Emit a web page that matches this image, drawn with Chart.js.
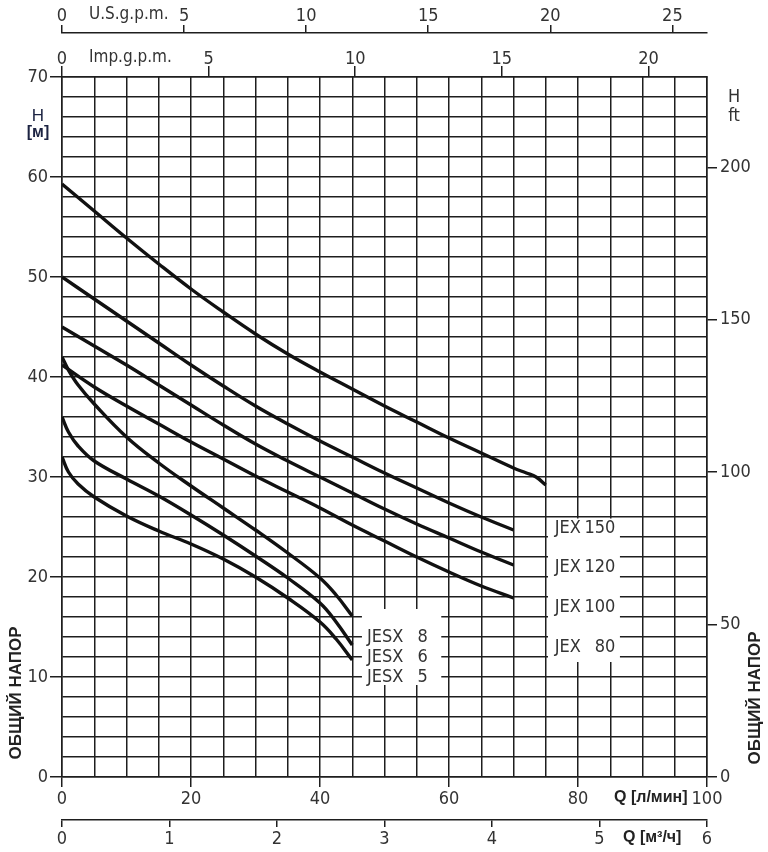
<!DOCTYPE html>
<html>
<head>
<meta charset="utf-8">
<script src="https://cdn.jsdelivr.net/npm/chart.js@4.4.0/dist/chart.umd.min.js"></script>
<style>
  html, body { margin: 0; padding: 0; background: #fff; }
  #wrap { width: 768px; height: 852px; }
</style>
</head>
<body>
<div id="wrap"><canvas id="curves"></canvas></div>
<script>
// flow Q [l/min] and head H [m]
const qJex    = [0, 5, 10, 15, 20, 25, 30, 35, 40, 45, 50, 55, 60, 65, 70];
const qJex150 = [0, 5, 10, 15, 20, 25, 30, 35, 40, 45, 50, 55, 60, 65, 70, 72, 73.5, 75];
const hJex150 = [59.3, 56.6, 53.9, 51.3, 48.8, 46.5, 44.3, 42.3, 40.5, 38.8, 37.1, 35.5, 33.9, 32.4, 30.9, 30.4, 30.0, 29.2];
const hJex120 = [50.0, 47.8, 45.6, 43.4, 41.2, 39.1, 37.1, 35.3, 33.6, 32.0, 30.4, 28.9, 27.4, 26.0, 24.7];
const hJex100 = [45.0, 43.1, 41.2, 39.2, 37.2, 35.2, 33.3, 31.6, 30.0, 28.4, 26.8, 25.3, 23.9, 22.5, 21.2];
const hJex80  = [41.2, 39.0, 37.1, 35.3, 33.5, 31.8, 30.1, 28.5, 26.9, 25.2, 23.6, 22.0, 20.5, 19.1, 17.9];
const qJesx   = [0, 1, 2.5, 5, 10, 15, 20, 25, 30, 35, 40, 42.5, 45];
const hJesx8  = [42.0, 40.7, 39.2, 37.3, 34.0, 31.4, 29.1, 26.9, 24.7, 22.4, 19.9, 18.2, 16.1];
const hJesx6  = [36.0, 34.5, 33.1, 31.6, 29.8, 28.1, 26.2, 24.2, 22.1, 19.9, 17.4, 15.5, 13.2];
const hJesx5  = [32.0, 30.5, 29.3, 28.0, 26.1, 24.6, 23.3, 21.8, 20.0, 17.9, 15.5, 13.8, 11.7];

const jexNames  = ['150', '120', '100', '80'];
const jesxNames = ['8', '6', '5'];

const qMax = 100, hMax = 70;
const M_TO_FT = 3.28084, LPM_USGPM = 3.78541, LPM_IMPGPM = 4.54609, LPM_M3H = 1000 / 60;

const gridCol = '#1e1e1e';
const txtCol = '#333';
const narrow = "'Liberation Sans Narrow','DejaVu Sans Condensed',sans-serif";
const tickFont = { family: narrow, size: 18 };

const pts = (q, h) => q.map((v, i) => ({ x: v, y: h[i] }));
const curve = (q, h) => ({ data: pts(q, h), borderColor: '#111', borderWidth: 3.4, pointRadius: 0,
  tension: 0.4, fill: false });

const every = n => c => (c.tick && Math.abs(c.tick.value % n) < 1e-6) ? gridCol : 'rgba(0,0,0,0)';

const labels = {
  id: 'labels',
  beforeDatasetsDraw(chart) {
    const { ctx, scales: { x, y } } = chart;
    ctx.save();
    ctx.fillStyle = '#fff';
    const box = (q1, q2, h1, h2) => {
      const x1 = x.getPixelForValue(q1), x2 = x.getPixelForValue(q2);
      const y1 = y.getPixelForValue(h1), y2 = y.getPixelForValue(h2);
      ctx.fillRect(x1, y1, x2 - x1, y2 - y1);
    };
    box(75.35, 86.5, 25.85, 11.5);
    box(46.5, 58.8, 16.8, 9.2);
    ctx.restore();
  },
  afterDraw(chart) {
    const { ctx, scales: { x, y } } = chart;
    ctx.save();
    ctx.fillStyle = txtCol;
    ctx.textBaseline = 'middle';
    ctx.font = `18px ${narrow}`;
    const jexH = [24.9, 21, 17, 13];
    jexNames.forEach((n, i) => {
      const yy = y.getPixelForValue(jexH[i]);
      ctx.textAlign = 'left'; ctx.fillText('JEX', x.getPixelForValue(76.4), yy);
      ctx.textAlign = 'right'; ctx.fillText(n, x.getPixelForValue(85.8), yy);
    });
    const jesxH = [14, 12, 10];
    jesxNames.forEach((n, i) => {
      const yy = y.getPixelForValue(jesxH[i]);
      ctx.textAlign = 'left'; ctx.fillText('JESX', x.getPixelForValue(47.3), yy);
      ctx.textAlign = 'right'; ctx.fillText(n, x.getPixelForValue(56.7), yy);
    });

    ctx.textAlign = 'left';
    ctx.font = `17px ${narrow}`;
    ctx.fillText('U.S.g.p.m.', 89, 15);
    ctx.fillText('Imp.g.p.m.', 89, 58);

    ctx.textAlign = 'center';
    ctx.font = `18px ${narrow}`;
    ctx.fillText('H', 734, 97);
    ctx.fillText('ft', 734, 116);

    ctx.fillStyle = '#1c2342';
    ctx.font = "17px 'Liberation Sans',Arial,sans-serif";
    ctx.fillText('H', 38, 116);
    ctx.font = "bold 16px 'Liberation Sans',Arial,sans-serif";
    ctx.fillText('[м]', 38, 133);

    ctx.fillStyle = '#222';
    ctx.textAlign = 'left';
    ctx.font = "bold 16px 'Liberation Sans',Arial,sans-serif";
    ctx.fillText('Q [л/мин]', 614, 798);
    ctx.fillText('Q [м³/ч]', 623, 838);

    ctx.font = "bold 17px 'Liberation Sans',Arial,sans-serif";
    ctx.textAlign = 'center';
    [[16, 693], [755, 698]].forEach(([px, py]) => {
      ctx.save();
      ctx.translate(px, py);
      ctx.rotate(-Math.PI / 2);
      ctx.fillText('ОБЩИЙ НАПОР', 0, 0);
      ctx.restore();
    });
    ctx.restore();
  }
};

const sideAxis = (extra) => Object.assign({
  type: 'linear',
  ticks: { autoSkip: false, maxRotation: 0, color: txtCol, font: tickFont, includeBounds: false },
  grid: { drawOnChartArea: false, color: gridCol, lineWidth: 1.5 },
  border: { color: gridCol, width: 1.5 }
}, extra);

new Chart(document.getElementById('curves'), {
  type: 'line',
  data: {
    datasets: [
      curve(qJex150, hJex150), curve(qJex, hJex120), curve(qJex, hJex100), curve(qJex, hJex80),
      curve(qJesx, hJesx8), curve(qJesx, hJesx6), curve(qJesx, hJesx5)
    ]
  },
  options: {
    responsive: true,
    maintainAspectRatio: false,
    animation: false,
    layout: { padding: 0 },
    plugins: { legend: { display: false }, tooltip: { enabled: false } },
    scales: {
      x: {
        type: 'linear', position: 'bottom', min: 0, max: qMax, weight: 0,
        afterFit: s => { s.height = 43; },
        ticks: { stepSize: 5, autoSkip: false, maxRotation: 0, padding: 2, color: txtCol, font: tickFont,
          callback: v => v % 20 === 0 ? v : '' },
        grid: { color: gridCol, lineWidth: 1.5, tickLength: 10, tickColor: every(20) },
        border: { color: gridCol, width: 1.5 }
      },
      m3: sideAxis({
        position: 'bottom', min: 0, max: qMax / LPM_M3H, weight: 1,
        afterFit: s => { s.height = 32; },
        ticks: { stepSize: 1, autoSkip: false, maxRotation: 0, padding: 2, color: txtCol, font: tickFont, includeBounds: false },
        grid: { drawOnChartArea: false, color: gridCol, lineWidth: 1.5, tickLength: 7 }
      }),
      imp: sideAxis({
        position: 'top', min: 0, max: qMax / LPM_IMPGPM, weight: 0,
        afterFit: s => { s.height = 44; },
        ticks: { stepSize: 5, autoSkip: false, maxRotation: 0, padding: -4, color: txtCol, font: tickFont, includeBounds: false },
        grid: { drawOnChartArea: false, color: gridCol, lineWidth: 1.5, tickLength: 11 }
      }),
      us: sideAxis({
        position: 'top', min: 0, max: qMax / LPM_USGPM, weight: 1,
        afterFit: s => { s.height = 33; },
        ticks: { stepSize: 5, autoSkip: false, maxRotation: 0, padding: -2, color: txtCol, font: tickFont, includeBounds: false },
        grid: { drawOnChartArea: false, color: gridCol, lineWidth: 1.5, tickLength: 8 }
      }),
      y: {
        type: 'linear', position: 'left', min: 0, max: hMax,
        afterFit: s => { s.width = 62; },
        ticks: { stepSize: 2, autoSkip: false, padding: 2, color: txtCol, font: tickFont,
          callback: v => v % 10 === 0 ? v : '' },
        grid: { color: gridCol, lineWidth: 1.5, tickLength: 12, tickColor: every(10) },
        border: { color: gridCol, width: 1.5 }
      },
      ft: sideAxis({
        position: 'right', min: 0, max: hMax * M_TO_FT,
        afterFit: s => { s.width = 61; },
        ticks: { stepSize: 50, autoSkip: false, padding: 3, color: txtCol, font: tickFont, includeBounds: false },
        grid: { drawOnChartArea: false, color: gridCol, lineWidth: 1.5, tickLength: 10 }
      })
    }
  },
  plugins: [labels]
});
</script>
</body>
</html>
